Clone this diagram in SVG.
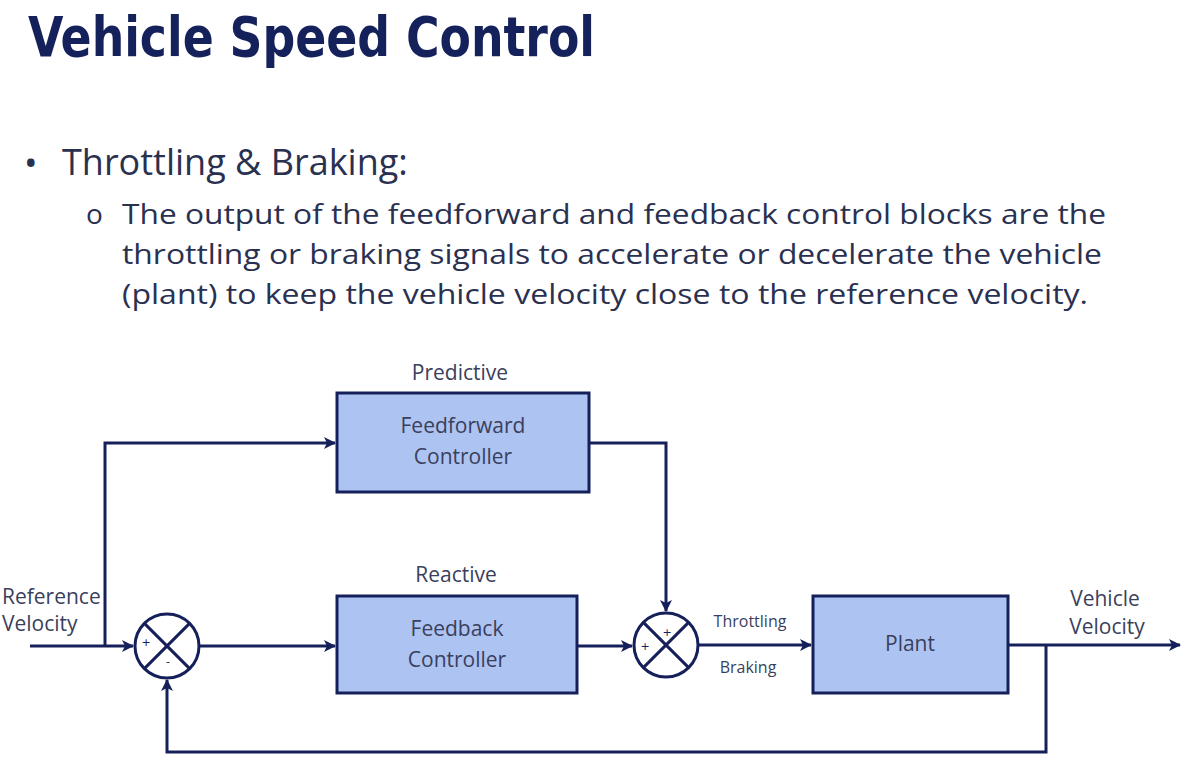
<svg xmlns="http://www.w3.org/2000/svg" width="1200" height="773" viewBox="0 0 1200 773">
<defs>
<marker id="ah" markerWidth="12" markerHeight="12" refX="11" refY="6" orient="auto" markerUnits="userSpaceOnUse">
<path d="M0,0 L12,6 L0,12 L3,6 Z" fill="#15205a"/>
</marker>
<style>
.box{fill:#adc3f2;stroke:#15205a;stroke-width:3}
.ln{fill:none;stroke:#15205a;stroke-width:3}
.sum{fill:#ffffff;stroke:#15205a;stroke-width:3}
.t{font-family:"Open Sans","Noto Sans",sans-serif;fill:#2a3150}
.lbl{font-family:"Open Sans","Noto Sans",sans-serif;fill:#3a3f5c;font-size:21px}
.sm{font-family:"Open Sans","Noto Sans",sans-serif;fill:#3a3f5c;font-size:16px}
.sg{font-family:"DejaVu Sans",sans-serif;fill:#15205a;font-size:11px}
</style>
</defs>
<rect width="1200" height="773" fill="#ffffff"/>
<text x="28" y="56" font-family="'DejaVu Sans',Roboto,sans-serif" font-stretch="condensed" font-weight="bold" font-size="56" fill="#15215a" textLength="567" lengthAdjust="spacingAndGlyphs">Vehicle Speed Control</text>
<g id="bullets">
<text class="t" x="24" y="176" font-size="36">•</text>
<text class="t" x="62" y="175" font-size="36">Throttling &amp; Braking:</text>
<text class="t" x="86" y="224" font-size="28">o</text>
<text class="t" x="122" y="224" font-size="28" textLength="984" lengthAdjust="spacingAndGlyphs">The output of the feedforward and feedback control blocks are the</text>
<text class="t" x="122" y="264" font-size="28" textLength="980" lengthAdjust="spacingAndGlyphs">throttling or braking signals to accelerate or decelerate the vehicle</text>
<text class="t" x="122" y="304" font-size="28" textLength="966" lengthAdjust="spacingAndGlyphs">(plant) to keep the vehicle velocity close to the reference velocity.</text>
</g>
<g id="connectors">
<polyline class="ln" points="30,646 133,646" marker-end="url(#ah)"/>
<polyline class="ln" points="105,646 105,443 335,443" marker-end="url(#ah)"/>
<polyline class="ln" points="589,443 666,443 666,611" marker-end="url(#ah)"/>
<polyline class="ln" points="200,646 335,646" marker-end="url(#ah)"/>
<polyline class="ln" points="577,646 632,646" marker-end="url(#ah)"/>
<polyline class="ln" points="699,645 811,645" marker-end="url(#ah)"/>
<polyline class="ln" points="1008,645 1180,645" marker-end="url(#ah)"/>
<polyline class="ln" points="1046,645 1046,752 167,752 167,680" marker-end="url(#ah)"/>
</g>
<g id="feedforward">
<text class="lbl" x="460" y="380" text-anchor="middle">Predictive</text>
<rect class="box" x="337" y="393" width="252" height="99"/>
<text class="lbl" x="463" y="433" text-anchor="middle">Feedforward</text>
<text class="lbl" x="463" y="464" text-anchor="middle">Controller</text>
</g>
<g id="feedback">
<text class="lbl" x="456" y="582" text-anchor="middle">Reactive</text>
<rect class="box" x="337" y="596" width="240" height="97"/>
<text class="lbl" x="457" y="636" text-anchor="middle">Feedback</text>
<text class="lbl" x="457" y="667" text-anchor="middle">Controller</text>
</g>
<g id="plant">
<rect class="box" x="813" y="596" width="195" height="97"/>
<text class="lbl" x="910" y="651" text-anchor="middle">Plant</text>
</g>
<g id="sum1">
<circle class="sum" cx="167" cy="646" r="32"/>
<line class="ln" x1="144.4" y1="623.4" x2="189.6" y2="668.6"/>
<line class="ln" x1="189.6" y1="623.4" x2="144.4" y2="668.6"/>
<text class="sg" x="146" y="646" text-anchor="middle">+</text>
<text class="sg" x="168" y="665" text-anchor="middle">-</text>
</g>
<g id="sum2">
<circle class="sum" cx="666" cy="645" r="32"/>
<line class="ln" x1="643.4" y1="622.4" x2="688.6" y2="667.6"/>
<line class="ln" x1="688.6" y1="622.4" x2="643.4" y2="667.6"/>
<text class="sg" x="667" y="636" text-anchor="middle">+</text>
<text class="sg" x="645" y="650" text-anchor="middle">+</text>
</g>
<g id="labels">
<text class="lbl" x="2" y="604" font-size="19">Reference</text>
<text class="lbl" x="2" y="631" font-size="19">Velocity</text>
<text class="sm" x="750" y="627" text-anchor="middle">Throttling</text>
<text class="sm" x="748" y="673" text-anchor="middle">Braking</text>
<text class="lbl" x="1105" y="606" text-anchor="middle" font-size="20">Vehicle</text>
<text class="lbl" x="1107" y="634" text-anchor="middle" font-size="20">Velocity</text>
</g>
</svg>
